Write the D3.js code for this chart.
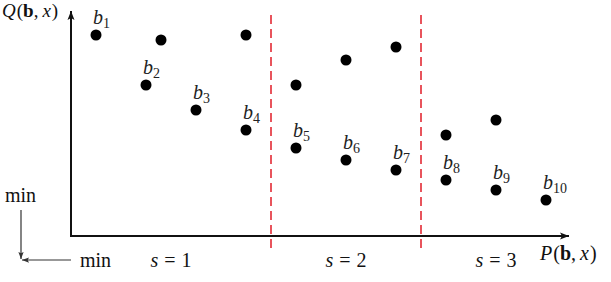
<!DOCTYPE html>
<html>
<head>
<meta charset="utf-8">
<script src="https://cdn.jsdelivr.net/npm/d3@7"></script>
<style>
  html, body { margin: 0; padding: 0; background: #fff; }
  svg { display: block; }
</style>
</head>
<body>
<svg id="chart" width="611" height="282"></svg>
<script>
// labelled points b1..b10
const bX = [1, 2, 3, 4, 5, 6, 7, 8, 9, 10];
const bQ = [201, 151, 126, 106, 88, 76, 66, 56, 46, 36];
// unlabelled points
const extraX = [2.3, 4, 5, 6, 7, 8, 9];
const extraQ = [196, 201, 151, 176, 189, 101, 116];
// segment boundaries and labels
const bounds = [4.5, 7.5];
const segLabels = ['1', '2', '3'];
const segCenters = [2.5, 6, 9];

const FONT = '"Liberation Serif"';
const x = d3.scaleLinear().domain([0.5, 10.5]).range([71, 571]);
const y = d3.scaleLinear().domain([0, 224]).range([236, 12]);

const svg = d3.select('#chart');
const defs = svg.append('defs');
defs.append('marker')
  .attr('id', 'arr')
  .attr('viewBox', '0 -4 9 8')
  .attr('refX', 9).attr('refY', 0)
  .attr('markerUnits', 'userSpaceOnUse')
  .attr('markerWidth', 9).attr('markerHeight', 8)
  .attr('orient', 'auto')
  .append('path').attr('d', 'M0,-3.5L9,0L0,3.5L2,0Z').attr('fill', '#111');
defs.append('marker')
  .attr('id', 'arrSmall')
  .attr('viewBox', '0 -4 8 8')
  .attr('refX', 8).attr('refY', 0)
  .attr('markerUnits', 'userSpaceOnUse')
  .attr('markerWidth', 7).attr('markerHeight', 7)
  .attr('orient', 'auto')
  .append('path').attr('d', 'M0,-3L8,0L0,3L1.5,0Z').attr('fill', '#333');

// dashed segment boundaries
svg.append('g').selectAll('line').data(bounds).enter().append('line')
  .attr('x1', d => x(d)).attr('x2', d => x(d))
  .attr('y1', 15).attr('y2', 250)
  .attr('stroke', '#e8545c').attr('stroke-width', 2)
  .attr('stroke-dasharray', '9,5');

// axes
svg.append('line')
  .attr('x1', x(0.5)).attr('y1', y(0)).attr('x2', x(0.5)).attr('y2', y(224) - 1)
  .attr('stroke', '#111').attr('stroke-width', 2).attr('marker-end', 'url(#arr)');
svg.append('line')
  .attr('x1', x(0.5) - 1).attr('y1', y(0)).attr('x2', x(10.5) - 2).attr('y2', y(0))
  .attr('stroke', '#111').attr('stroke-width', 2).attr('marker-end', 'url(#arr)');

// direction indicator bottom-left
svg.append('line')
  .attr('x1', 21).attr('y1', 210).attr('x2', 21).attr('y2', 259)
  .attr('stroke', '#333').attr('stroke-width', 1.2).attr('marker-end', 'url(#arrSmall)');
svg.append('line')
  .attr('x1', 71).attr('y1', 260).attr('x2', 22).attr('y2', 260)
  .attr('stroke', '#333').attr('stroke-width', 1.2).attr('marker-end', 'url(#arrSmall)');

function txt(sel, xx, yy, size) {
  return sel.append('text').attr('x', xx).attr('y', yy)
    .style('font-family', FONT).style('font-size', size + 'px').attr('fill', '#111');
}
txt(svg, 5, 202, 20).text('min');
txt(svg, 80, 267, 20).text('min');

// axis titles
function mathLabel(xx, yy, letter, size) {
  const t = txt(svg, xx, yy, size);
  t.append('tspan').style('font-style', 'italic').text(letter);
  t.append('tspan').attr('dx', 1).text('(');
  t.append('tspan').style('font-weight', 'bold').text('b');
  t.append('tspan').text(',');
  t.append('tspan').attr('dx', 4).style('font-style', 'italic').text('x');
  t.append('tspan').attr('dx', 1).text(')');
}
mathLabel(2, 17, 'Q', 19);
mathLabel(540, 260, 'P', 20);

// segment labels
segLabels.forEach((d, i) => {
  const t = txt(svg, x(segCenters[i]), 267, 20).attr('text-anchor', 'middle');
  t.append('tspan').style('font-style', 'italic').text('s');
  t.append('tspan').attr('dx', 6).text('=');
  t.append('tspan').attr('dx', 6).text(d);
});

// points
const R = 5.5;
svg.append('g').selectAll('circle').data(extraX).enter().append('circle')
  .attr('cx', d => x(d)).attr('cy', (d, i) => y(extraQ[i])).attr('r', R).attr('fill', '#000');
svg.append('g').selectAll('circle').data(bX).enter().append('circle')
  .attr('cx', d => x(d)).attr('cy', (d, i) => y(bQ[i])).attr('r', R).attr('fill', '#000');

// b_i labels
bX.forEach((d, i) => {
  const t = txt(svg, x(d) - 3, y(bQ[i]) - 11, 20).attr('fill', '#222');
  t.append('tspan').style('font-style', 'italic').text('b');
  t.append('tspan').style('font-size', '14px').attr('dy', 4).text(i + 1);
});
</script>
</body>
</html>
